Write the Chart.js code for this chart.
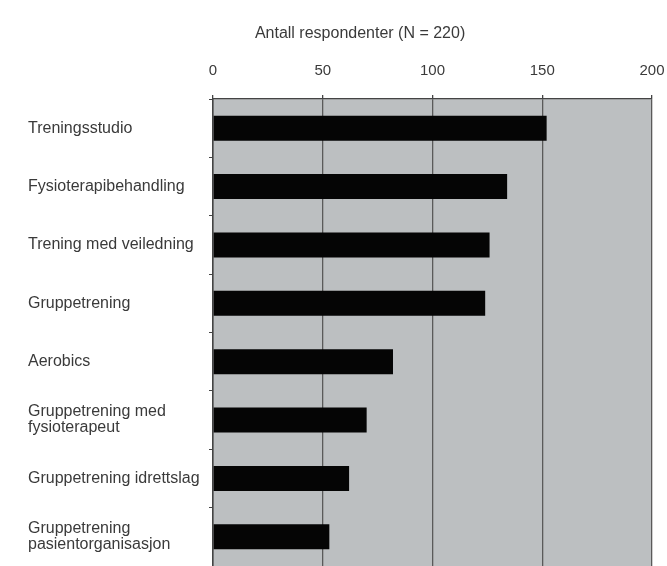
<!DOCTYPE html>
<html>
<head>
<meta charset="utf-8">
<title>Antall respondenter</title>
<script src="https://cdn.jsdelivr.net/npm/chart.js@4.4.1/dist/chart.umd.min.js"></script>
<style>
  html, body { margin: 0; padding: 0; background: #ffffff; }
  #wrap { width: 667px; height: 566px; }
</style>
</head>
<body>
<div id="wrap"><canvas id="chart" width="667" height="566"></canvas></div>
<script>
// Activity types and number of respondents choosing each one
const categories = [
  "Treningsstudio",
  "Fysioterapibehandling",
  "Trening med veiledning",
  "Gruppetrening",
  "Aerobics",
  ["Gruppetrening med", "fysioterapeut"],
  "Gruppetrening idrettslag",
  ["Gruppetrening", "pasientorganisasjon"]
];
const respondents = [152, 134, 126, 124, 82, 70, 62, 53];
const axisTitle = "Antall respondenter (N = 220)";
const axisMin = 0;
const axisMax = 200;
const axisStep = 50;

const FONT = "'Liberation Sans', Arial, sans-serif";
const TEXT = "#3a3a3a";

// Grey plot background behind grid and bars
const plotBackground = {
  id: "plotBackground",
  beforeDraw(chart) {
    const { ctx, chartArea: a } = chart;
    ctx.save();
    ctx.fillStyle = "#bcbfc1";
    ctx.fillRect(a.left, a.top, a.right - a.left, a.bottom - a.top);
    ctx.restore();
  }
};

// Caption above the value axis
const axisCaption = {
  id: "axisCaption",
  afterDraw(chart) {
    const { ctx, chartArea: a } = chart;
    ctx.save();
    ctx.font = "16px " + FONT;
    ctx.fillStyle = TEXT;
    ctx.textAlign = "center";
    ctx.textBaseline = "middle";
    ctx.fillText(axisTitle, a.left + (a.right - a.left) * 0.335, 34);
    ctx.restore();
  }
};

new Chart(document.getElementById("chart"), {
  type: "bar",
  data: {
    labels: categories,
    datasets: [{
      data: respondents,
      backgroundColor: "#050505",
      borderWidth: 0,
      barPercentage: 0.43,
      categoryPercentage: 1.0
    }]
  },
  options: {
    indexAxis: "y",
    responsive: false,
    animation: false,
    layout: { padding: { left: 28, right: 15, top: 47, bottom: 0 } },
    plugins: {
      legend: { display: false },
      tooltip: { enabled: false },
      title: { display: false }
    },
    scales: {
      x: {
        position: "top",
        min: axisMin,
        max: axisMax,
        ticks: {
          stepSize: axisStep,
          padding: 15,
          color: TEXT,
          font: { family: FONT, size: 15 }
        },
        grid: {
          color: "#5a5a5a",
          lineWidth: 1.3,
          tickLength: 4,
          tickColor: "#444444"
        },
        border: { display: true, color: "#444444", width: 1.3 },
        afterFit(scale) { scale.paddingLeft = 0; scale.paddingRight = 0; }
      },
      y: {
        ticks: {
          crossAlign: "far",
          color: TEXT,
          font: { family: FONT, size: 16, lineHeight: 1.0 }
        },
        grid: {
          offset: true,
          drawOnChartArea: false,
          drawTicks: true,
          tickLength: 4,
          color: "#444444"
        },
        border: { display: true, color: "#444444", width: 1.5 },
        afterFit(scale) {
          scale.width = 185;
          scale.paddingTop = 0;
          scale.paddingBottom = 0;
        }
      }
    }
  },
  plugins: [plotBackground, axisCaption]
});
</script>
</body>
</html>
